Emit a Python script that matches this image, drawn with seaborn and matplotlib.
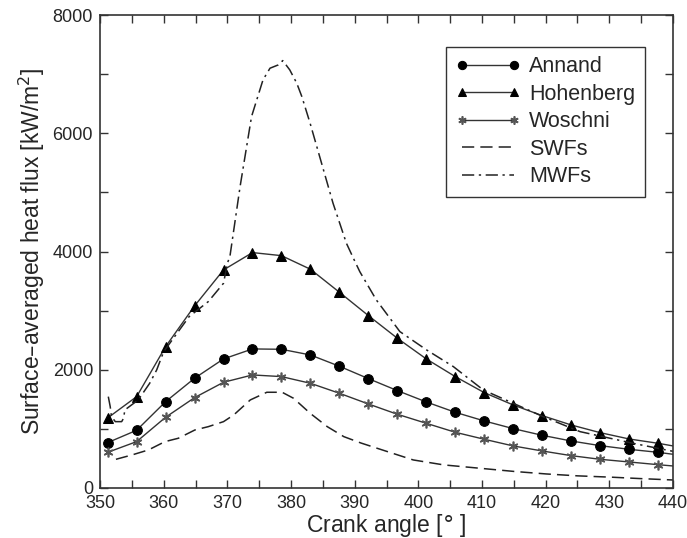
import numpy as np
import pandas as pd
import seaborn as sns
import matplotlib.pyplot as plt
from matplotlib.ticker import MultipleLocator

# crank angles where the correlation markers sit (last value = end of curve)
ca_corr = [351.2, 355.75, 360.3, 364.85, 369.4, 373.95, 378.5, 383.05, 387.6, 392.15,
           396.7, 401.25, 405.8, 410.35, 414.9, 419.45, 424.0, 428.55, 433.1, 437.65, 440.0]
annand = [767, 976, 1460, 1856, 2183, 2352, 2346, 2250, 2059, 1850,
          1647, 1455, 1280, 1134, 1004, 891, 795, 716, 654, 603, 570]
hohenberg = [1184, 1545, 2391, 3080, 3689, 3982, 3930, 3700, 3311, 2916,
             2533, 2183, 1884, 1613, 1404, 1224, 1066, 936, 829, 756, 711]
woschni = [603, 784, 1196, 1528, 1788, 1912, 1884, 1771, 1602, 1421,
           1247, 1094, 942, 824, 711, 626, 547, 485, 440, 394, 372]

ca_swf = [352.5, 355.0, 357.6, 360.2, 362.3, 364.9, 367.0, 369.4, 371.0, 373.6, 376.2,
          378.6, 380.4, 383.0, 385.7, 388.3, 391.0, 394.0, 399.2, 404.0, 409.7,
          415.0, 420.1, 425.0, 430.6, 435.0, 440.0]
swf = [485, 558, 643, 784, 841, 981, 1037, 1122, 1235, 1489, 1619,
       1619, 1517, 1264, 1037, 868, 760, 655, 474, 390, 333,
       280, 237, 205, 181, 158, 135]

ca_mwf = [351.3, 351.6, 351.8, 352.4, 353.4, 353.7, 353.9, 356.0, 357.8, 358.9, 360.0,
          364.0, 367.0, 369.4, 370.0, 370.4, 372.0, 373.8, 375.6, 376.7, 378.0, 378.7,
          379.8, 380.9, 381.7, 383.0, 384.5, 386.6, 388.7, 389.8, 390.8, 393.4, 397.1,
          401.3, 405.5, 410.2, 414.9, 419.6, 425.4, 433.7, 440.0]
mwf = [1545, 1376, 1207, 1122, 1122, 1180, 1320, 1489, 1771, 1997, 2306,
       2899, 3152, 3463, 3802, 3914, 5098, 6283, 6904, 7101, 7157, 7230,
       7073, 6848, 6621, 6170, 5606, 4817, 4140, 3886, 3660, 3181, 2645,
       2335, 2053, 1658, 1433, 1207, 953, 756, 620]

sns.set_style("ticks")
plt.rcParams['font.family'] = ['Liberation Sans', 'DejaVu Sans']

fig = plt.figure(figsize=(6.87, 5.38), dpi=100)
ax = fig.add_axes([0.1456, 0.093, 0.834, 0.879])

df_c = pd.DataFrame({'ca': ca_corr, 'Annand': annand, 'Hohenberg': hohenberg, 'Woschni': woschni})
nmk = list(range(len(ca_corr) - 1))  # no marker on end point

sns.lineplot(data=df_c, x='ca', y='Annand', ax=ax, color='#333333', lw=1.0,
             marker='o', markersize=7, markerfacecolor='black', markeredgecolor='black',
             markevery=nmk, label='Annand')
sns.lineplot(data=df_c, x='ca', y='Hohenberg', ax=ax, color='#333333', lw=1.0,
             marker='^', markersize=7, markerfacecolor='black', markeredgecolor='black',
             markevery=nmk, label='Hohenberg')
sns.lineplot(data=df_c, x='ca', y='Woschni', ax=ax, color='#333333', lw=1.0,
             marker=(6, 2, 0), markersize=7, markeredgecolor='#555555', markeredgewidth=1.2,
             markevery=nmk, label='Woschni')
sns.lineplot(x=ca_swf, y=swf, ax=ax, color='#222222', lw=1.1, label='SWFs')
ax.lines[-1].set_linestyle((0, (8, 4)))
sns.lineplot(x=ca_mwf, y=mwf, ax=ax, color='#222222', lw=1.1, label='MWFs')
ax.lines[-1].set_linestyle((0, (8, 3, 1.5, 3)))

ax.set_xlim(350, 440)
ax.set_ylim(0, 8000)
ax.xaxis.set_major_locator(MultipleLocator(10))
ax.xaxis.set_minor_locator(MultipleLocator(5))
ax.yaxis.set_major_locator(MultipleLocator(2000))
ax.yaxis.set_minor_locator(MultipleLocator(1000))
ax.tick_params(which='both', direction='in', top=True, right=True, labelsize=13,
               color='#333333', width=1.0, pad=5, length=6)
for s in ax.spines.values():
    s.set_linewidth(1.2)
    s.set_color('#333333')

ax.set_xlabel('Crank angle [$\\degree$ ]', fontsize=16.5, labelpad=0)
ax.set_ylabel('Surface\u2013averaged heat flux [kW/m$^2$]', fontsize=16.5, labelpad=4)

leg = ax.legend(loc='upper left', bbox_to_anchor=(0.604, 0.933), fontsize=15.5,
                frameon=True, fancybox=False, edgecolor='black', handlelength=3.0,
                numpoints=2, markerscale=0.85, labelspacing=0.3, borderpad=0.45,
                handletextpad=0.4, borderaxespad=0)
leg.get_frame().set_linewidth(1.0)

plt.savefig('out.png', dpi=100)
